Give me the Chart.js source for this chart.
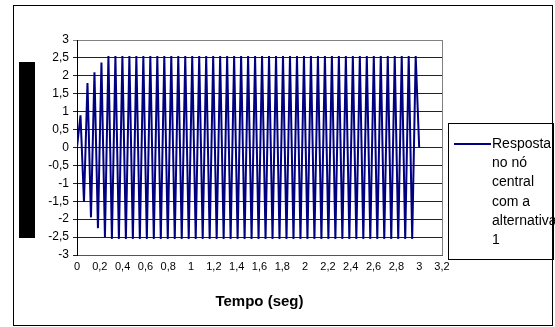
<!DOCTYPE html>
<html>
<head>
<meta charset="utf-8">
<script src="https://cdn.jsdelivr.net/npm/chart.js@4/dist/chart.umd.min.js"></script>
<style>
  html, body { margin: 0; padding: 0; background: #fff; }
  #wrap { width: 555px; height: 327px; }
</style>
</head>
<body>
<div id="wrap"><canvas id="respChart" width="555" height="327"></canvas></div>
<script>
// sampled response of the central node, one value every sampleStep seconds
const sampleStep = 3 / 98;
const response = [
  0, 0.9, -1.52, 1.8, -1.95, 2.1, -2.25, 2.37, -2.5, 2.55,
  -2.55, 2.55, -2.55, 2.55, -2.55, 2.55, -2.55, 2.55, -2.55, 2.55,
  -2.55, 2.55, -2.55, 2.55, -2.55, 2.55, -2.55, 2.55, -2.55, 2.55,
  -2.55, 2.55, -2.55, 2.55, -2.55, 2.55, -2.55, 2.55, -2.55, 2.55,
  -2.55, 2.55, -2.55, 2.55, -2.55, 2.55, -2.55, 2.55, -2.55, 2.55,
  -2.55, 2.55, -2.55, 2.55, -2.55, 2.55, -2.55, 2.55, -2.55, 2.55,
  -2.55, 2.55, -2.55, 2.55, -2.55, 2.55, -2.55, 2.55, -2.55, 2.55,
  -2.55, 2.55, -2.55, 2.55, -2.55, 2.55, -2.55, 2.55, -2.55, 2.55,
  -2.55, 2.55, -2.55, 2.55, -2.55, 2.55, -2.55, 2.55, -2.55, 2.55,
  -2.55, 2.55, -2.55, 2.55, -2.55, 2.55, -2.55, 2.55, 0
];

const xTickLabels = ['0', '0,2', '0,4', '0,6', '0,8', '1', '1,2', '1,4', '1,6', '1,8',
                     '2', '2,2', '2,4', '2,6', '2,8', '3', '3,2'];
const yTickLabels = ['-3', '-2,5', '-2', '-1,5', '-1', '-0,5', '0', '0,5', '1', '1,5',
                     '2', '2,5', '3'];
const legendLines = ['Resposta', 'no nó', 'central', 'com a', 'alternativa', '1'];
const xTitle = 'Tempo (seg)';

const FONT = '"Liberation Sans", Arial, sans-serif';
const LINE_COLOR = '#000080';

// outer frame, the dark title block, plot border, axis title and the boxed legend
const chartDecor = {
  id: 'chartDecor',
  beforeDraw(chart) {
    const ctx = chart.ctx;
    ctx.save();
    ctx.fillStyle = '#fff';
    ctx.fillRect(0, 0, chart.width, chart.height);
    ctx.strokeStyle = '#000';
    ctx.lineWidth = 1;
    ctx.strokeRect(13.5, 5.5, 539, 320);
    ctx.fillStyle = '#000';
    ctx.fillRect(19, 62, 16, 176);
    ctx.restore();
  },
  afterDraw(chart) {
    const { ctx, chartArea: a } = chart;
    ctx.save();
    ctx.strokeStyle = '#808080';
    ctx.lineWidth = 1;
    ctx.beginPath();
    ctx.moveTo(a.right + 0.5, a.top);
    ctx.lineTo(a.right + 0.5, a.bottom);
    ctx.stroke();

    // x axis title
    ctx.fillStyle = '#000';
    ctx.font = 'bold 15px ' + FONT;
    ctx.textAlign = 'center';
    ctx.textBaseline = 'middle';
    ctx.fillText(xTitle, (a.left + a.right) / 2, 302);

    // legend box
    ctx.strokeStyle = '#000';
    ctx.strokeRect(448.5, 123.5, 105, 136);
    ctx.strokeStyle = LINE_COLOR;
    ctx.lineWidth = 2;
    ctx.beginPath();
    ctx.moveTo(454, 144);
    ctx.lineTo(491, 144);
    ctx.stroke();
    ctx.fillStyle = '#000';
    ctx.font = '14px ' + FONT;
    ctx.textBaseline = 'middle';
    ctx.textAlign = 'left';
    legendLines.forEach((line, i) => {
      ctx.fillText(line, 492, 144 + i * 19.3);
    });
    ctx.restore();
  }
};

const ctx = document.getElementById('respChart');
new Chart(ctx, {
  type: 'line',
  data: {
    datasets: [{
      label: legendLines.join(' '),
      data: response.map((v, i) => ({ x: i * sampleStep, y: v })),
      borderColor: LINE_COLOR,
      borderWidth: 2,
      pointRadius: 0,
      tension: 0,
      fill: false
    }]
  },
  options: {
    responsive: false,
    animation: false,
    layout: {
      padding: { left: 0, top: 40, right: 113, bottom: 0 }
    },
    plugins: {
      legend: { display: false },
      tooltip: { enabled: false }
    },
    scales: {
      x: {
        type: 'linear',
        min: 0,
        max: 3.2,
        afterFit(scale) { scale.height = 72; },
        afterBuildTicks(scale) {
          scale.ticks = xTickLabels.map((_, i) => ({ value: i * 0.2 }));
        },
        ticks: {
          autoSkip: false,
          maxRotation: 0,
          padding: 5,
          color: '#000',
          font: { family: FONT, size: 11 },
          callback: (v, i) => xTickLabels[i]
        },
        grid: { drawOnChartArea: false, drawTicks: false },
        border: { color: '#555', width: 1 }
      },
      y: {
        min: -3,
        max: 3,
        afterFit(scale) { scale.width = 77; },
        afterBuildTicks(scale) {
          scale.ticks = yTickLabels.map((_, i) => ({ value: -3 + i * 0.5 }));
        },
        ticks: {
          autoSkip: false,
          padding: 4,
          color: '#000',
          font: { family: FONT, size: 12 },
          callback: (v, i) => yTickLabels[i]
        },
        grid: {
          color: c => (c.tick && c.tick.value === 3 ? '#808080' : '#222'),
          lineWidth: 1,
          tickLength: 4
        },
        border: { color: '#000', width: 1 }
      }
    }
  },
  plugins: [chartDecor]
});
</script>
</body>
</html>
